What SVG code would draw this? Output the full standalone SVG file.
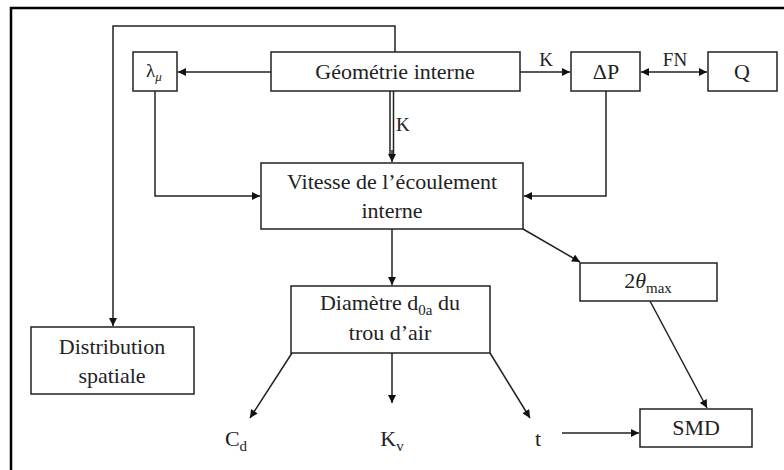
<svg xmlns="http://www.w3.org/2000/svg" width="784" height="470" viewBox="0 0 784 470">
<defs>
<marker id="ah" viewBox="0 0 10 10" refX="10" refY="5" markerWidth="9" markerHeight="8" markerUnits="userSpaceOnUse" orient="auto-start-reverse">
<path d="M0,0 L10,5 L0,10 z" fill="#111"/>
</marker>
<style>
rect.box{fill:#fff;stroke:#222;stroke-width:1.5}
.t{font-family:'Liberation Serif','DejaVu Serif',serif;font-size:22px;fill:#222;text-anchor:middle}
.s{font-family:'Liberation Serif','DejaVu Serif',serif;font-size:19px;fill:#222}
line,polyline{stroke:#222;stroke-width:1.5;fill:none}
.frame{stroke:#000;stroke-width:2.5;fill:none}
</style>
</defs>
<rect width="784" height="470" fill="#fff"/>
<polyline class="frame" points="11,470 11,8 784,8"/>
<g id="connectors">
<polyline points="395,52 395,26 113,26 113,326" marker-end="url(#ah)"/>
<line x1="271" y1="72" x2="178" y2="72" marker-end="url(#ah)"/>
<line x1="520" y1="72" x2="570" y2="72" marker-end="url(#ah)"/>
<text class="s" x="546" y="66" text-anchor="middle">K</text>
<line x1="641" y1="72" x2="707" y2="72" marker-start="url(#ah)" marker-end="url(#ah)"/>
<text class="s" x="675" y="66" text-anchor="middle">FN</text>
<line x1="390" y1="91" x2="390" y2="156"/>
<line x1="393.5" y1="91" x2="393.5" y2="156"/>
<line x1="392" y1="150" x2="392" y2="162" marker-end="url(#ah)"/>
<text class="s" x="396" y="131">K</text>
<polyline points="155,91 155,196 260,196" marker-end="url(#ah)"/>
<polyline points="606,91 606,196 524,196" marker-end="url(#ah)"/>
<line x1="392" y1="229" x2="392" y2="285" marker-end="url(#ah)"/>
<line x1="523" y1="229" x2="580" y2="262" marker-end="url(#ah)"/>
<line x1="292" y1="353" x2="250" y2="418" marker-end="url(#ah)"/>
<line x1="392" y1="353" x2="392" y2="403" marker-end="url(#ah)"/>
<line x1="490" y1="353" x2="530" y2="418" marker-end="url(#ah)"/>
<line x1="562" y1="433" x2="639" y2="433" marker-end="url(#ah)"/>
<line x1="650" y1="301" x2="707" y2="408" marker-end="url(#ah)"/>
</g>
<g id="lambda">
<rect class="box" x="133" y="52" width="44" height="39"/>
<text class="s" x="146" y="77" font-size="16">λ<tspan font-size="13" dy="4" font-style="italic">μ</tspan></text>
</g>
<g id="geometrie">
<rect class="box" x="271" y="52" width="249" height="39"/>
<text class="t" x="395" y="79">Géométrie interne</text>
</g>
<g id="deltaP">
<rect class="box" x="571" y="52" width="69" height="39"/>
<text class="t" x="606" y="79">ΔP</text>
</g>
<g id="Q">
<rect class="box" x="708" y="52" width="69" height="39"/>
<text class="t" x="742" y="79">Q</text>
</g>
<g id="vitesse">
<rect class="box" x="261" y="163" width="262" height="66"/>
<text class="t" x="392" y="189">Vitesse de l’écoulement</text>
<text class="t" x="392" y="218">interne</text>
</g>
<g id="theta">
<rect class="box" x="580" y="263" width="137" height="38"/>
<text class="t" x="648" y="288">2<tspan font-style="italic">θ</tspan><tspan font-size="15" dy="5">max</tspan></text>
</g>
<g id="diametre">
<rect class="box" x="291" y="286" width="199" height="67"/>
<text class="t" x="390" y="310">Diamètre d<tspan font-size="15" dy="5">0a</tspan><tspan dy="-5"> du</tspan></text>
<text class="t" x="390" y="340">trou d’air</text>
</g>
<g id="distribution">
<rect class="box" x="31" y="327" width="163" height="67"/>
<text class="t" x="112" y="354">Distribution</text>
<text class="t" x="112" y="383">spatiale</text>
</g>
<g id="Cd">
<text class="t" x="236" y="446">C<tspan font-size="15" dy="5">d</tspan></text>
</g>
<g id="Kv">
<text class="t" x="392" y="446">K<tspan font-size="15" dy="5">v</tspan></text>
</g>
<g id="t">
<text class="t" x="538" y="446">t</text>
</g>
<g id="SMD">
<rect class="box" x="640" y="409" width="112" height="38"/>
<text class="t" x="696" y="435">SMD</text>
</g>
</svg>
